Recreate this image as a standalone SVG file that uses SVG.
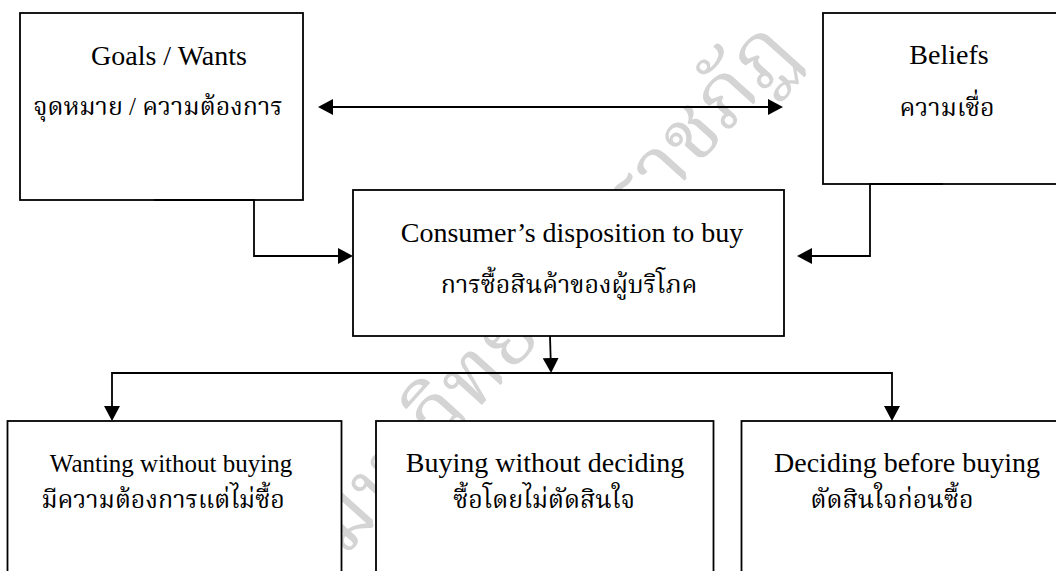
<svg xmlns="http://www.w3.org/2000/svg" width="1056" height="571" viewBox="0 0 1056 571">
<style>
.box{fill:#fff;stroke:#000;stroke-width:1.8}
.en{font-family:"Liberation Serif","Times New Roman",serif;font-size:28px;fill:#000;text-anchor:middle}
.th{font-family:"Liberation Serif","Noto Serif Thai","Noto Sans Thai","Noto Sans",serif;font-size:25px;fill:#000;text-anchor:middle}
.ln{fill:none;stroke:#000;stroke-width:1.8}
.wm{font-family:"Noto Serif Thai","Noto Sans Thai","Noto Sans",sans-serif;font-size:84px;fill:#d4d4d4;text-anchor:middle}
</style>
<defs>
<marker id="ah" viewBox="0 0 15 16" refX="12" refY="8" markerWidth="15" markerHeight="16" markerUnits="userSpaceOnUse" orient="auto-start-reverse">
<path d="M0,0 L15,8 L0,16 z" fill="#000"/>
</marker>
</defs>
<rect width="1056" height="571" fill="#fff"/>
<g id="watermark">
<text class="wm" x="572" y="305" transform="rotate(-48 572 305)">มหาวิทยาลัยราชภัฏ</text>
</g>
<g id="goals">
<rect class="box" x="20" y="13" width="283" height="187"/>
<text class="en" x="169" y="65">Goals / Wants</text>
<text class="th" x="158" y="115">จุดหมาย / ความต้องการ</text>
</g>
<g id="beliefs">
<rect class="box" x="823" y="13" width="250" height="171"/>
<text class="en" x="949" y="64">Beliefs</text>
<text class="th" x="947" y="116">ความเชื่อ</text>
</g>
<g id="consumer">
<rect class="box" x="353" y="190" width="431" height="146"/>
<text class="en" x="572" y="242">Consumer’s disposition to buy</text>
<text class="th" x="569" y="293">การซื้อสินค้าของผู้บริโภค</text>
</g>
<g id="wanting">
<rect class="box" x="7.5" y="421" width="334" height="170"/>
<text class="en" x="171" y="472" style="font-size:25px">Wanting without buying</text>
<text class="th" x="163" y="508">มีความต้องการแต่ไม่ซื้อ</text>
</g>
<g id="buying">
<rect class="box" x="376" y="421" width="337.5" height="170"/>
<text class="en" x="545" y="472">Buying without deciding</text>
<text class="th" x="544" y="508">ซื้อโดยไม่ตัดสินใจ</text>
</g>
<g id="deciding">
<rect class="box" x="741.5" y="421" width="340" height="170"/>
<text class="en" x="907" y="472">Deciding before buying</text>
<text class="th" x="892" y="508">ตัดสินใจก่อนซื้อ</text>
</g>
<g id="connectors">
<path class="ln" d="M321,107 H780" marker-start="url(#ah)" marker-end="url(#ah)"/>
<path class="ln" d="M154,200 H254 V256 H350" marker-end="url(#ah)"/>
<path class="ln" d="M943,184 H870 V256 H800" marker-end="url(#ah)"/>
<path class="ln" d="M550,336 L551,370" marker-end="url(#ah)"/>
<path class="ln" d="M112,418 V373 H892 V418" marker-start="url(#ah)" marker-end="url(#ah)"/>
</g>
</svg>
